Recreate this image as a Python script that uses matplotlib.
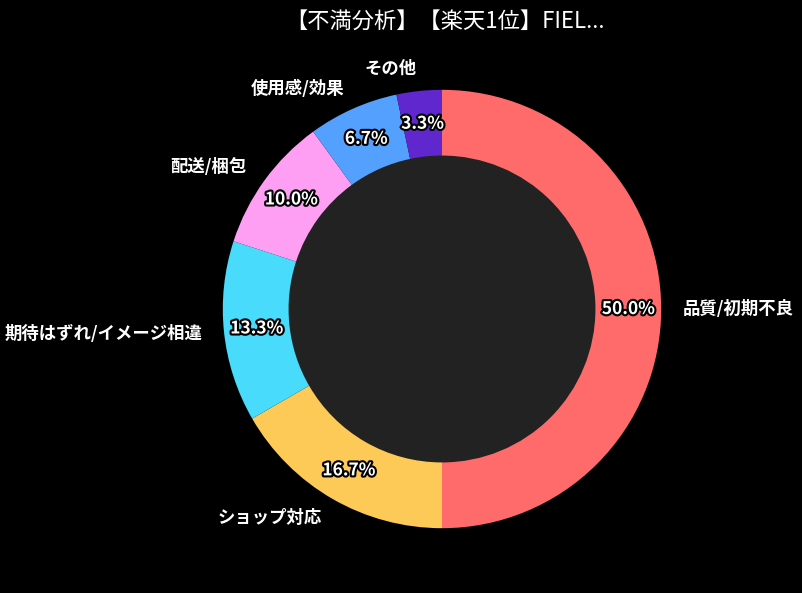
import matplotlib
matplotlib.use("Agg")
import matplotlib.pyplot as plt
import matplotlib.patheffects as pe

plt.rcParams['font.family'] = ['Noto Sans CJK JP', 'DejaVu Sans']

title = "【不満分析】【楽天1位】FIEL..."
categories = ["品質/初期不良", "ショップ対応", "期待はずれ/イメージ相違", "配送/梱包", "使用感/効果", "その他"]
values = [15, 5, 4, 3, 2, 1]
colors = ["#FF6B6B", "#FECA57", "#48DBFB", "#FF9FF3", "#54A0FF", "#5F27CD"]

fig = plt.figure(figsize=(8.02, 5.93), dpi=100, facecolor="black")
ax = fig.add_axes([168/802, 10/593, 548/802, 548/593])
ax.set_facecolor("black")

wedges, texts, autotexts = ax.pie(
    values, labels=categories, colors=colors, startangle=90, counterclock=False,
    autopct="%1.1f%%", pctdistance=0.85, labeldistance=1.1,
    wedgeprops=dict(width=0.3, edgecolor="none"),
    textprops=dict(color="white", fontsize=12.5, fontweight="bold"),
)
for t in autotexts:
    t.set_fontsize(12.5)
    t.set_path_effects([pe.withStroke(linewidth=3, foreground="black")])

centre = plt.Circle((0, 0), 0.7, color="#222222", zorder=0.5)
ax.add_artist(centre)
ax.set_xlim(-1.25, 1.25)
ax.set_ylim(-1.25, 1.25)
ax.set_aspect("equal")

fig.text(0.555, 1 - 21/593, title, color="white", fontsize=16, ha="center", va="center")

fig.savefig("out.png", dpi=100, facecolor="black")
